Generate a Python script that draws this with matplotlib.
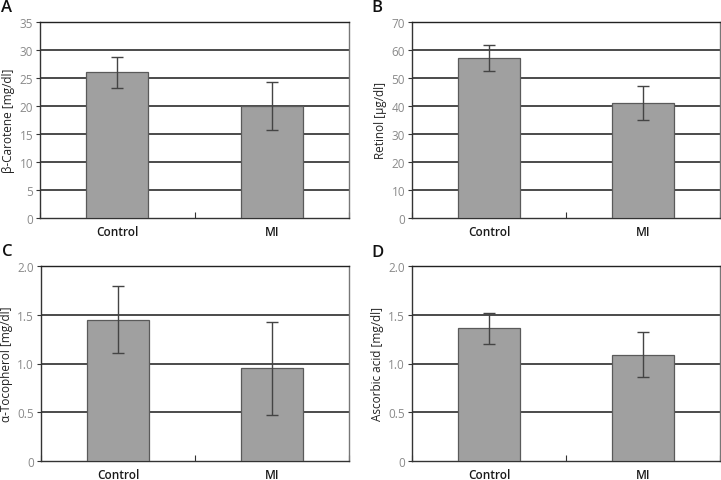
import matplotlib.pyplot as plt
import numpy as np

plt.rcParams['font.family'] = ['Open Sans', 'DejaVu Sans']

groups = ["Control", "MI"]

carotene = [26.0, 20.0]
carotene_err = [2.75, 4.3]

retinol = [57.2, 41.2]
retinol_err = [4.6, 6.1]

tocopherol = [1.45, 0.95]
tocopherol_err = [0.34, 0.48]

ascorbic = [1.36, 1.09]
ascorbic_err = [0.16, 0.23]

panels = [
    ("A", carotene, carotene_err, "β-Carotene [mg/dl]", 35, 5, "int"),
    ("B", retinol, retinol_err, "Retinol [µg/dl]", 70, 10, "int"),
    ("C", tocopherol, tocopherol_err, "α-Tocopherol [mg/dl]", 2.0, 0.5, "float"),
    ("D", ascorbic, ascorbic_err, "Ascorbic acid [mg/dl]", 2.0, 0.5, "float"),
]

# axes boxes in pixels: left, top, right, bottom
boxes = [
    (40, 23, 349, 219),
    (412, 23, 720, 219),
    (41, 267, 349, 462),
    (412, 267, 720, 462),
]
letter_pos = [(1, 0), (371, 0), (2, 244), (371, 245)]

W, H = 721, 481
fig = plt.figure(figsize=(W / 100, H / 100), dpi=100)

for (letter, vals, errs, ylabel, ymax, step, fmt), box, lp in zip(panels, boxes, letter_pos):
    l, t, r, b = box
    ax = fig.add_axes([l / W, (H - b) / H, (r - l) / W, (b - t) / H])
    x = np.arange(len(groups))
    ax.bar(x, vals, width=0.4, color="#a0a0a0", edgecolor="#5a5a5a", linewidth=0.9, zorder=3)
    ax.errorbar(x, vals, yerr=errs, fmt="none", ecolor="#444444", elinewidth=1.0,
                capsize=4, capthick=1.0, zorder=4)
    ax.set_xlim(-0.5, 1.5)
    ax.set_ylim(0, ymax)
    ticks = np.arange(0, ymax + step / 2, step)
    ax.set_yticks(ticks)
    if fmt == "int":
        ax.set_yticklabels([str(int(v)) for v in ticks])
    else:
        ax.set_yticklabels(["0" if v == 0 else f"{v:.1f}" for v in ticks])
    for v in ticks[1:-1]:
        ax.axhline(v, color="#1a1a1a", linewidth=1.1, zorder=1)
    ax.set_xticks([-0.5, 0.5, 1.5], minor=False)
    ax.set_xticklabels(["", "", ""])
    ax.set_xticks(x, minor=True)
    ax.set_xticklabels(groups, minor=True, fontsize=8.5, color="#1a1a1a", fontweight="semibold")
    ax.tick_params(axis="x", which="minor", length=0, pad=5)
    ax.tick_params(axis="x", which="major", length=4, direction="in", color="#333333")
    ax.tick_params(axis="y", length=3, direction="out", color="#333333",
                   labelsize=8.5, labelcolor="#8a8a8a", pad=2)
    ax.spines["top"].set_color("#222222")
    ax.spines["right"].set_color("#777777")
    for s in ["left", "bottom"]:
        ax.spines[s].set_color("#333333")
    for s in ax.spines.values():
        s.set_linewidth(1.0)
    ax.set_ylabel(ylabel, fontsize=8.5, color="#222222", labelpad=3)
    fig.text(lp[0] / W, 1 - lp[1] / H, letter, fontsize=12, fontweight="semibold",
             va="top", ha="left", color="#111111")

fig.savefig("out.png", dpi=100)
